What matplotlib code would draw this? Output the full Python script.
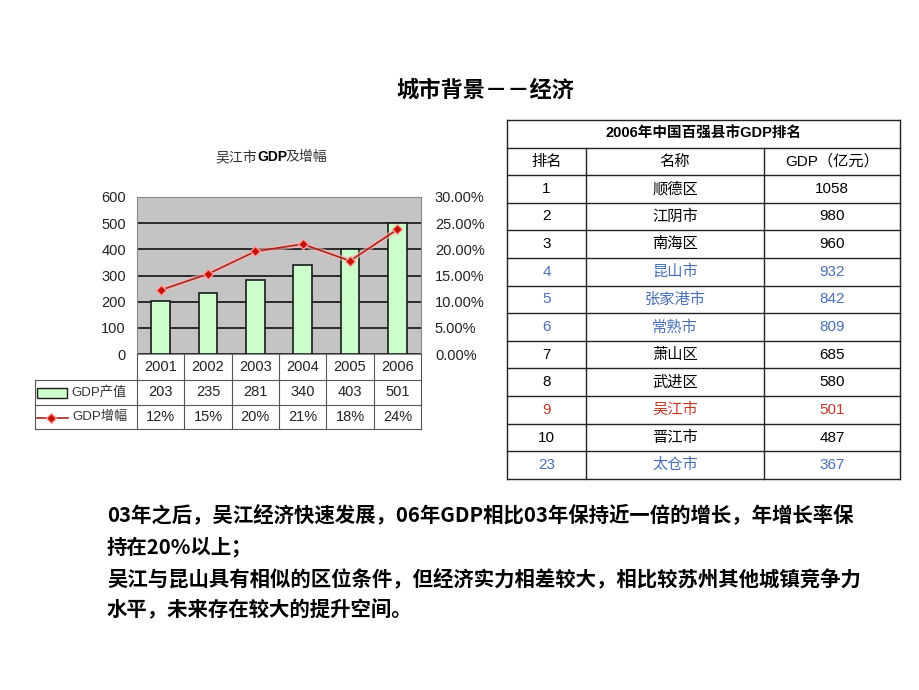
import matplotlib
matplotlib.use("Agg")
import matplotlib.pyplot as plt
from matplotlib.ticker import FuncFormatter
from matplotlib.patches import Rectangle

plt.rcParams['font.family'] = ['Liberation Sans', 'Noto Sans CJK SC', 'DejaVu Sans']

# chart data
years = ['2001', '2002', '2003', '2004', '2005', '2006']
gdp = [203, 235, 281, 340, 403, 501]
growth = [0.122, 0.153, 0.196, 0.210, 0.178, 0.238]
growth_labels = ['12%', '15%', '20%', '21%', '18%', '24%']

# ranking table data
ranks = ['1', '2', '3', '4', '5', '6', '7', '8', '9', '10', '23']
names = ['顺德区', '江阴市', '南海区', '昆山市', '张家港市', '常熟市',
         '萧山区', '武进区', '吴江市', '晋江市', '太仓市']
gdp_2006 = ['1058', '980', '960', '932', '842', '809', '685', '580', '501', '487', '367']
row_colors = ['black', 'black', 'black', '#4a6fb5', '#4a6fb5', '#4a6fb5',
              'black', 'black', '#c0392b', 'black', '#4a6fb5']

text_lines = [
    '03年之后，吴江经济快速发展，06年GDP相比03年保持近一倍的增长，年增长率保',
    '持在20%以上；',
    '吴江与昆山具有相似的区位条件，但经济实力相差较大，相比较苏州其他城镇竞争力',
    '水平，未来存在较大的提升空间。',
]

W, H = 920, 690
fig = plt.figure(figsize=(W / 100, H / 100), dpi=100)

def px_rect(x0, y0, x1, y1):
    return [x0 / W, 1 - y1 / H, (x1 - x0) / W, (y1 - y0) / H]

# --- chart ---
pl, pt, pr, pb = 137, 197, 421, 354
ax = fig.add_axes(px_rect(pl, pt, pr, pb))
ax.set_facecolor('#c4c4c4')
x = list(range(len(years)))
ax.bar(x, gdp, width=0.4, color='#ccffcc', edgecolor='#1a1a1a', linewidth=1.2, zorder=3)
ax.set_xlim(-0.5, len(years) - 0.5)
ax.set_ylim(0, 600)
ax.set_yticks(range(0, 601, 100))
ax.grid(axis='y', color='#111111', linewidth=1.2, zorder=1)
ax.set_xticks([])
ax.tick_params(axis='y', length=0, labelsize=10.5, pad=8, labelcolor='#222222')
for s in ax.spines.values():
    s.set_color('#888888')
    s.set_linewidth(0.8)

ax2 = ax.twinx()
ax2.set_ylim(0, 0.30)
ax2.set_yticks([i * 0.05 for i in range(7)])
ax2.yaxis.set_major_formatter(FuncFormatter(lambda v, p: '%.2f%%' % (v * 100)))
ax2.tick_params(axis='y', length=0, labelsize=10.5, pad=10, labelcolor='#222222')
for s in ax2.spines.values():
    s.set_visible(False)
ax2.plot(x, growth, color='#ffb3b3', linewidth=4, alpha=0.6, zorder=4)
ax2.plot(x, growth, color='#a52a1e', linewidth=1.2, marker='D', markersize=5.5,
         markerfacecolor='#c41200', markeredgecolor='#ff9999', zorder=5)

# overlay in pixel coordinates for tables and text
ov = fig.add_axes([0, 0, 1, 1], zorder=10)
ov.set_xlim(0, W)
ov.set_ylim(H, 0)
ov.axis('off')
ov.patch.set_alpha(0)

ov.text(485, 90, '城市背景－－经济', ha='center', va='center', fontsize=16,
        fontweight='bold', family=['Noto Sans CJK SC'])
ov.text(257, 157, '吴江市', ha='right', va='center', fontsize=10, color='#333333',
        family=['Noto Sans CJK SC'])
ov.text(257, 157, 'GDP', ha='left', va='center', fontsize=10, fontweight='bold')
ov.text(286, 157, '及增幅', ha='left', va='center', fontsize=10, color='#333333',
        family=['Noto Sans CJK SC'])

# data table under the chart
cw = (pr - pl) / len(years)
r0, r1, r2, r3 = pb, 380, 405, 429
lc = '#555555'
ov.plot([pl, pr], [r1, r1], color=lc, lw=0.8)
ov.plot([35, pr], [r2, r2], color=lc, lw=0.8)
ov.plot([35, pr], [r3, r3], color=lc, lw=0.8)
ov.plot([35, 35], [r1, r3], color=lc, lw=0.8)
ov.plot([pr, pr], [r0, r3], color=lc, lw=0.8)
ov.plot([35, pl], [r1, r1], color=lc, lw=0.8)
for i in range(len(years)):
    xl = pl + i * cw
    ov.plot([xl, xl], [r0, r3], color=lc, lw=0.8)
    xc = xl + cw / 2
    ov.text(xc, (r0 + r1) / 2, years[i], ha='center', va='center', fontsize=10.5, color='#222222')
    ov.text(xc, (r1 + r2) / 2, str(gdp[i]), ha='center', va='center', fontsize=10.5, color='#222222')
    ov.text(xc, (r2 + r3) / 2, growth_labels[i], ha='center', va='center', fontsize=10.5,
            color='#222222')
ov.add_patch(Rectangle((37, 388), 30, 10, facecolor='#ccffcc', edgecolor='#1a1a1a', lw=1))
ov.text(71, (r1 + r2) / 2, 'GDP产值', ha='left', va='center', fontsize=9.5, color='#333333')
ov.plot([37, 68], [418, 418], color='#a52a1e', lw=1.2)
ov.plot([51], [418], marker='D', markersize=5, color='#c41200', markeredgecolor='#ff9999')
ov.text(72, (r2 + r3) / 2, 'GDP增幅', ha='left', va='center', fontsize=9.5, color='#333333')

# ranking table on the right
tx0, tx1 = 507, 900
cols = [507, 586, 764, 900]
ty = [120, 148, 175]
rh = (479 - 175) / len(ranks)
for k in range(1, len(ranks) + 1):
    ty.append(175 + k * rh)
tl = '#222222'
for y in ty:
    ov.plot([tx0, tx1], [y, y], color=tl, lw=1.0)
ov.plot([tx0, tx0], [ty[0], ty[-1]], color=tl, lw=1.0)
ov.plot([tx1, tx1], [ty[0], ty[-1]], color=tl, lw=1.0)
for cx in cols[1:3]:
    ov.plot([cx, cx], [ty[1], ty[-1]], color=tl, lw=1.0)
ov.text((tx0 + tx1) / 2, (ty[0] + ty[1]) / 2, '2006年中国百强县市GDP排名', ha='center',
        va='center', fontsize=10.5, fontweight='bold')
headers = ['排名', '名称', 'GDP（亿元）']
for j, h in enumerate(headers):
    ov.text((cols[j] + cols[j + 1]) / 2, (ty[1] + ty[2]) / 2, h, ha='center', va='center',
            fontsize=11)
for i in range(len(ranks)):
    yc = (ty[2 + i] + ty[3 + i]) / 2
    vals = [ranks[i], names[i], gdp_2006[i]]
    for j, v in enumerate(vals):
        ov.text((cols[j] + cols[j + 1]) / 2, yc, v, ha='center', va='center',
                fontsize=11, color=row_colors[i])

# bottom text
for i, line in enumerate(text_lines):
    ov.text(107, 515 + i * 31.7, line, ha='left', va='center', fontsize=14.7,
            fontweight='bold', family=['Noto Sans CJK SC'])

fig.savefig('out.png', dpi=100)
